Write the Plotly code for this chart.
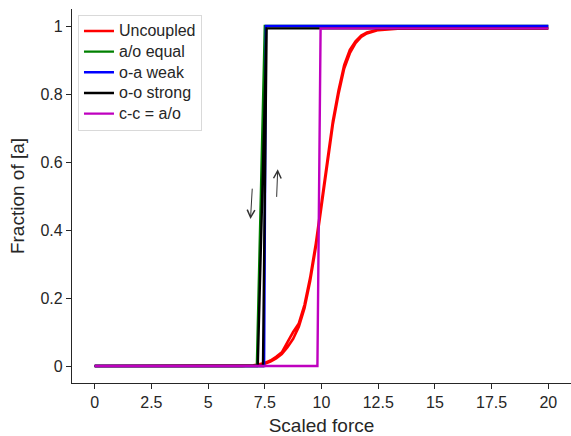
import plotly.graph_objects as go

# ---- data ----
force_red = [0, 6.5, 7.0, 7.25, 7.5, 7.75, 8.0, 8.25, 8.5, 8.75, 9.0, 9.25, 9.5,
             9.75, 10.0, 10.25, 10.5, 10.75, 11.0, 11.25, 11.5, 11.75, 12.0,
             12.5, 13.0, 13.5, 20]
frac_red_up = [0, 0, 0.002, 0.004, 0.007, 0.013, 0.022, 0.035, 0.055, 0.08, 0.115,
               0.17, 0.25, 0.35, 0.47, 0.59, 0.71, 0.80, 0.875, 0.92, 0.95, 0.968,
               0.978, 0.988, 0.991, 0.993, 0.993]
frac_red_down = [0, 0, 0.002, 0.005, 0.009, 0.016, 0.027, 0.04, 0.07, 0.10, 0.125,
                 0.18, 0.26, 0.36, 0.48, 0.60, 0.72, 0.81, 0.885, 0.93, 0.955, 0.972,
                 0.981, 0.989, 0.992, 0.993, 0.993]

force_green = [0, 7.15, 7.5, 20]
frac_green = [0, 0, 1.0, 1.0]

force_blue = [0, 7.47, 7.55, 20]
frac_blue = [0, 0, 1.0, 1.0]

force_black = [0, 7.42, 7.58, 20, 7.58, 7.19, 0]
frac_black = [0, 0, 0.993, 0.993, 0.993, 0, 0]

force_magenta = [0, 9.82, 9.96, 20]
frac_magenta = [0, 0, 0.993, 0.993]

x_ticks = [0, 2.5, 5, 7.5, 10, 12.5, 15, 17.5, 20]
x_tick_text = ["0", "2.5", "5", "7.5", "10", "12.5", "15", "17.5", "20"]
y_ticks = [0, 0.2, 0.4, 0.6, 0.8, 1.0]
y_tick_text = ["0", "0.2", "0.4", "0.6", "0.8", "1"]

TEXT = "#262626"
FONT = "Liberation Sans, Arial, sans-serif"


def legend_name(s):
    # legend rows are spaced from the legend font size; the label itself is drawn a bit larger
    return "<span style='font-size:16px'>" + s + "</span>"


fig = go.Figure()

fig.add_scatter(
    x=force_red + force_red[::-1],
    y=frac_red_up + frac_red_down[::-1],
    mode="lines",
    line=dict(color="#ff0000", width=2.6),
    name=legend_name("Uncoupled"),
)

fig.add_scatter(
    x=force_green,
    y=frac_green,
    mode="lines",
    line=dict(color="#008000", width=2.4),
    name=legend_name("a/o equal"),
)

fig.add_scatter(
    x=force_blue,
    y=frac_blue,
    mode="lines",
    line=dict(color="#0000ff", width=2.4),
    name=legend_name("o-a weak"),
)

fig.add_scatter(
    x=force_black,
    y=frac_black,
    mode="lines",
    line=dict(color="#000000", width=2.4),
    name=legend_name("o-o strong"),
)

fig.add_scatter(
    x=force_magenta,
    y=frac_magenta,
    mode="lines",
    line=dict(color="#bf00bf", width=2.4),
    name=legend_name("c-c = a/o"),
)

# hysteresis arrows
for (xh, yh, xt, yt) in [(6.87, 0.432, 6.95, 0.526), (8.07, 0.579, 8.02, 0.493)]:
    fig.add_annotation(
        x=xh, y=yh, ax=xt, ay=yt,
        xref="x", yref="y", axref="x", ayref="y",
        showarrow=True, arrowhead=5, arrowsize=1.5, arrowwidth=1,
        arrowcolor="#333333", text="",
    )

axis_common = dict(
    showline=True,
    linecolor=TEXT,
    linewidth=1.25,
    mirror=False,
    ticks="outside",
    ticklen=5,
    tickwidth=1.25,
    tickcolor=TEXT,
    showgrid=False,
    zeroline=False,
    tickfont=dict(size=16, color=TEXT, family=FONT),
)

fig.update_xaxes(
    range=[-1, 21],
    tickvals=x_ticks,
    ticktext=x_tick_text,
    title=dict(text="Scaled force", font=dict(size=19, color=TEXT, family=FONT), standoff=8),
    **axis_common,
)

fig.update_yaxes(
    range=[-0.05, 1.05],
    tickvals=y_ticks,
    ticktext=y_tick_text,
    title=dict(text="Fraction of [a]", font=dict(size=19, color=TEXT, family=FONT), standoff=10),
    **axis_common,
)

fig.update_layout(
    width=571,
    height=436,
    margin=dict(l=72, r=0, t=9, b=53),
    plot_bgcolor="white",
    paper_bgcolor="white",
    font=dict(family=FONT, color=TEXT),
    showlegend=True,
    legend=dict(
        x=0.012,
        y=0.985,
        xanchor="left",
        yanchor="top",
        bgcolor="rgba(255,255,255,0.8)",
        bordercolor="#d9d9d9",
        borderwidth=1,
        font=dict(size=13.6, color=TEXT, family=FONT),
        tracegroupgap=0,
        itemwidth=30,
    ),
)

# drop the browser's default body margin so the figure sits at the page corner
fig.write_html(
    "out.html",
    config={"displayModeBar": False},
    post_script="document.body.style.margin='0';",
)
